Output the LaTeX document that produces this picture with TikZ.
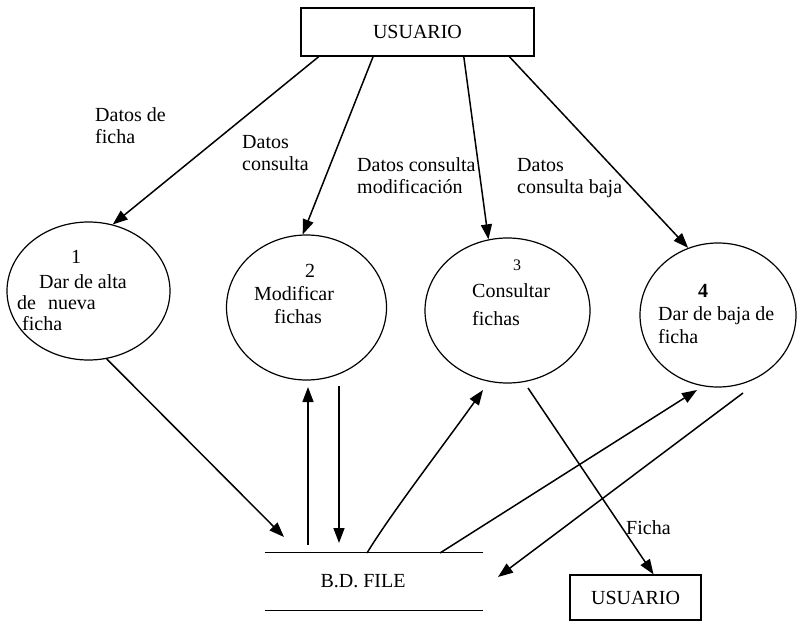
\documentclass[tikz,border=0pt]{standalone}
\usepackage{fontspec}
\setmainfont{Liberation Serif}
\usetikzlibrary{shapes.geometric,arrows.meta}
\begin{document}
\begin{tikzpicture}[x=1pt,y=-1pt,
  font=\fontsize{20}{22}\selectfont,
  proc/.style={ellipse,draw,line width=1.2pt,inner sep=0pt},
  ent/.style={rectangle,draw,line width=1.2pt,inner sep=0pt},
  flow/.style={line width=1.5pt,-{Triangle[length=15pt,width=11pt]}},
  txtc/.style={inner sep=0pt,anchor=base},
  txtl/.style={inner sep=0pt,anchor=base west},
  lbl/.style={inner sep=0pt,anchor=west,align=left}]
\useasboundingbox (0,0) rectangle (797,623);
\fill[white] (0,0) rectangle (797,623);

% external entities
\node[ent,minimum width=233pt,minimum height=48pt] (top) at (417.5,32) {USUARIO};
\node[ent,minimum width=131pt,minimum height=45pt] (usr2) at (635.5,597.5) {USUARIO};

% processes
\node[proc,minimum width=163pt,minimum height=138pt] (p1) at (88.5,291) {};
\node[proc,minimum width=160pt,minimum height=145pt] (p2) at (306.5,307.5) {};
\node[proc,minimum width=165pt,minimum height=145pt] (p3) at (507.5,310.5) {};
\node[proc,minimum width=156pt,minimum height=144pt] (p4) at (718,315) {};

% process texts
\node[txtc] (p1n) at (76,263) {1};
\node[txtc] (p1a) at (83,288) {Dar de alta};
\node[txtl] (p1b) at (17,309) {de\hspace{12pt}nueva};
\node[txtl] (p1c) at (22,330) {ficha};

\node[txtc] (p2n) at (310,277) {2};
\node[txtc] (p2a) at (294,300) {Modificar};
\node[txtc] (p2b) at (298,323) {fichas};

\node[txtc,font=\fontsize{16}{18}\selectfont] (p3n) at (517,270) {3};
\node[txtl] (p3a) at (472,297) {Consultar};
\node[txtl] (p3b) at (472,325) {fichas};

\node[txtc,font=\fontsize{20}{22}\selectfont\bfseries] (p4n) at (703,297) {4};
\node[txtl] (p4a) at (658,320) {Dar de baja de};
\node[txtl] (p4b) at (658,343) {ficha};

% data store
\node[minimum width=218pt,minimum height=57pt,inner sep=0pt] (bd) at (374,581.5) {};
\node[txtc] (bdt) at (363,587) {B.D. FILE};
\draw[line width=1.1pt] (bd.north west) -- (bd.north east);
\draw[line width=1.1pt] (bd.south west) -- (bd.south east);

% free ends
\coordinate (c1in) at (284,537);
\coordinate (upS) at (308,545);
\coordinate (upE) at (308,387);
\coordinate (dnS) at (339,386);
\coordinate (dnE) at (339,543);
\coordinate (s3) at (367,553);
\coordinate (e3) at (483,390);
\coordinate (s4) at (440,553);
\coordinate (e4) at (697,390);
\coordinate (o4) at (743,393);
\coordinate (bdin) at (498,577);
\coordinate (o3) at (528,388);

% flows from top USUARIO
\draw[flow] (top.-166.6) -- (p1.70);
\draw[flow] (top.-151.7) -- (p2.93.5);
\draw[flow] (top.-28.3) -- (p3.105.8);
\draw[flow] (top.-15) -- (p4.114);

% flows to / from store
\draw[flow] (p1.-75) -- (c1in);
\draw[flow] (upS) -- (upE);
\draw[flow] (dnS) -- (dnE);
\draw[flow] (s3) .. controls (390,515) and (440,450) .. (e3);
\draw[flow] (s4) -- (e4);
\draw[flow] (o4) -- (bdin);
\draw[flow] (o3) -- (usr2.52);

% labels
\node[lbl] (l1) at (95,126) {Datos de\\ficha};
\node[lbl] (l2) at (242,153) {Datos\\consulta};
\node[lbl] (l3) at (357,176) {Datos consulta\\modificación};
\node[lbl] (l4) at (517,178) {Datos\\consulta baja};
\node[lbl] (l5) at (626,528) {Ficha};
\end{tikzpicture}
\end{document}
